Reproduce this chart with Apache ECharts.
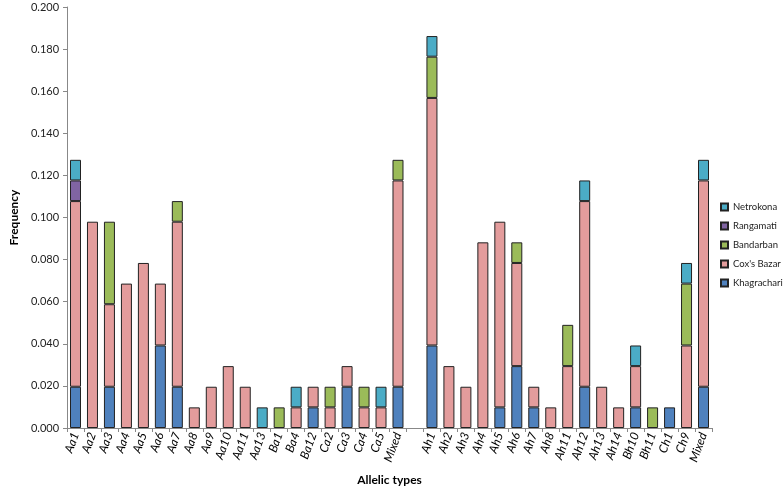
<!DOCTYPE html>
<html>
<head>
<meta charset="utf-8">
<script src="https://cdn.jsdelivr.net/npm/echarts@6/dist/echarts.min.js"></script>
<style>html,body{margin:0;padding:0;background:#fff;}#c{width:784px;height:491px;}</style>
</head>
<body>
<div id="c"></div>
<script>
var categories = ['Aa1','Aa2','Aa3','Aa4','Aa5','Aa6','Aa7','Aa8','Aa9','Aa10','Aa11','Aa13','Ba1','Ba4','Ba12','Ca2','Ca3','Ca4','Ca5','Mixed','','Ah1','Ah2','Ah3','Ah4','Ah5','Ah6','Ah7','Ah8','Ah11','Ah12','Ah13','Ah14','Bh10','Bh11','Ch1','Ch9','Mixed'];
var khagrachari = [0.0196,null,0.0196,null,null,0.0392,0.0196,null,null,null,null,null,null,null,0.0098,null,0.0196,null,null,0.0196,null,0.0392,null,null,null,0.0098,0.0294,0.0098,null,null,0.0196,null,null,0.0098,null,0.0098,null,0.0196];
var coxsBazar = [0.0882,0.098,0.0392,0.0686,0.0784,0.0294,0.0784,0.0098,0.0196,0.0294,0.0196,null,null,0.0098,0.0098,0.0098,0.0098,0.0098,0.0098,0.098,null,0.1176,0.0294,0.0196,0.0882,0.0882,0.049,0.0098,0.0098,0.0294,0.0882,0.0196,0.0098,0.0196,null,null,0.0392,0.098];
var bandarban = [null,null,0.0392,null,null,null,0.0098,null,null,null,null,null,0.0098,null,null,0.0098,null,0.0098,null,0.0098,null,0.0196,null,null,null,null,0.0098,null,null,0.0196,null,null,null,null,0.0098,null,0.0294,null];
var rangamati = [0.0098,null,null,null,null,null,null,null,null,null,null,null,null,null,null,null,null,null,null,null,null,null,null,null,null,null,null,null,null,null,null,null,null,null,null,null,null,null];
var netrokona = [0.0098,null,null,null,null,null,null,null,null,null,null,0.0098,null,0.0098,null,null,null,null,0.0098,null,null,0.0098,null,null,null,null,null,null,null,null,0.0098,null,null,0.0098,null,null,0.0098,0.0098];
var legendOrder = ['Netrokona','Rangamati','Bandarban',"Cox's Bazar",'Khagrachari'];

var font = 'Lato, "Open Sans", sans-serif';
function mk(name, data, color) {
  return {
    name: name, type: 'bar', stack: 'f', data: data, barWidth: 11,
    itemStyle: { color: color, borderColor: '#222', borderWidth: 1 }
  };
}
var chart = echarts.init(document.getElementById('c'));
chart.setOption({
  animation: false,
  textStyle: { fontFamily: font },
  grid: { left: 58, right: 72, top: 7, bottom: 61 },
  legend: {
    data: legendOrder,
    orient: 'vertical', left: 720, top: 202, padding: 0,
    itemWidth: 7, itemHeight: 7, itemGap: 9,
    textStyle: { fontSize: 9.5, color: '#222', fontFamily: font },
    icon: 'rect'
  },
  xAxis: {
    type: 'category', data: categories,
    name: 'Allelic types', nameLocation: 'middle', nameGap: 46,
    nameTextStyle: { fontSize: 12, fontWeight: 'bold', color: '#000', fontFamily: font },
    axisLine: { lineStyle: { color: '#888' } },
    axisTick: { show: true, alignWithLabel: false, length: 4, lineStyle: { color: '#888' } },
    axisLabel: { rotate: 70, interval: 0, fontSize: 12, fontStyle: 'italic', color: '#000', margin: 5, fontFamily: font }
  },
  yAxis: {
    type: 'value', min: 0, max: 0.2, interval: 0.02,
    name: 'Frequency', nameLocation: 'middle', nameGap: 44,
    nameTextStyle: { fontSize: 12, fontWeight: 'bold', color: '#000', fontFamily: font },
    splitLine: { show: false },
    axisLine: { show: true, lineStyle: { color: '#888' } },
    axisTick: { show: true, length: 4, lineStyle: { color: '#888' } },
    axisLabel: { fontSize: 11, color: '#222', margin: 8, formatter: function (v) { return v.toFixed(3); }, fontFamily: font }
  },
  series: [
    mk('Khagrachari', khagrachari, '#4F81BD'),
    mk("Cox's Bazar", coxsBazar, '#E39C9C'),
    mk('Bandarban', bandarban, '#9BBB59'),
    mk('Rangamati', rangamati, '#8064A2'),
    mk('Netrokona', netrokona, '#4BACC6')
  ]
});
</script>
</body>
</html>
